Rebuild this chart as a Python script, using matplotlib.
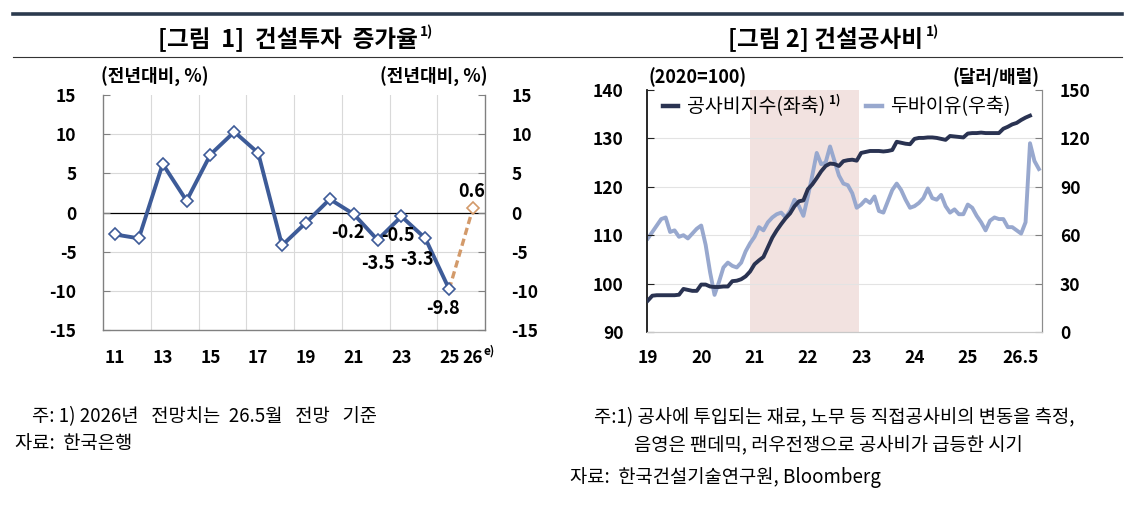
import matplotlib
matplotlib.use('Agg')
import matplotlib.pyplot as plt
from matplotlib.lines import Line2D
import numpy as np

plt.rcParams['font.family'] = ['Noto Sans CJK KR', 'DejaVu Sans']
plt.rcParams['axes.unicode_minus'] = False

# ---------------- [그림 1] 건설투자 증가율 ----------------
years = [11, 12, 13, 14, 15, 16, 17, 18, 19, 20, 21, 22, 23, 24, 25, 26]
growth = [-2.8, -3.3, 6.2, 1.5, 7.4, 10.3, 7.6, -4.2, -1.3, 1.7,
          -0.2, -3.5, -0.5, -3.3, -9.8, 0.6]
labeled_years = [21, 22, 23, 24, 25, 26]
year_ticks = [11, 13, 15, 17, 19, 21, 23, 25, 26]
year_tick_labels = ['11', '13', '15', '17', '19', '21', '23', '25', '26']

# ---------------- [그림 2] 건설공사비 (월별, 19.1월~) ----------------
cost_index = [96.5, 97.5, 97.6, 97.6, 97.6, 97.6, 97.6, 97.7, 98.9, 98.7,
              98.5, 98.5, 99.8, 99.8, 99.4, 99.3, 99.3, 99.4, 99.4, 100.5,
              100.6, 100.9, 101.5, 102.5, 104.0, 104.8, 105.5, 107.5, 109.5, 111.0,
              112.3, 113.5, 114.5, 116.0, 117.0, 117.2, 119.5, 120.5, 121.8, 123.2,
              124.3, 124.8, 124.7, 124.3, 125.3, 125.5, 125.6, 125.4, 127.0, 127.2,
              127.4, 127.4, 127.4, 127.3, 127.4, 127.6, 129.3, 129.1, 128.9, 128.8,
              129.9, 130.1, 130.1, 130.2, 130.2, 130.1, 129.9, 129.7, 130.5, 130.4,
              130.3, 130.2, 131.0, 131.1, 131.1, 131.2, 131.1, 131.1, 131.1, 131.1,
              132.0, 132.4, 132.9, 133.2, 133.8, 134.3, 134.7]
dubai = [58, 62, 66, 70, 71, 62, 63, 59, 60, 58,
         61, 64, 66, 54, 37, 23, 31, 40, 43, 41,
         40, 43, 50, 55, 59, 65, 63, 68, 71, 73,
         74, 71, 75, 82, 78, 72, 84, 97, 111, 104,
         105, 115, 106, 97, 92, 91, 86, 77, 79, 82,
         80, 84, 75, 74, 81, 88, 92, 88, 82, 77,
         78, 80, 83, 89, 83, 82, 85, 78, 74, 76,
         73, 73, 79, 77, 72, 68, 63, 69, 71, 70,
         70, 65, 65, 63, 61, 68, 117, 106, 101]
month_ticks = [0, 12, 24, 36, 48, 60, 72, 88]
month_tick_labels = ['19', '20', '21', '22', '23', '24', '25', '26.5']
shade_start, shade_end = 23, 47.5

W, H = 1130, 512
fig = plt.figure(figsize=(W / 100, H / 100), dpi=100)
fig.patch.set_facecolor('white')


def fx(px):
    return px / W


def fy(py):
    return 1 - py / H


def sup(text_artist, s, size, dy_px=0.0, dx_px=2.0):
    # small superscript right after a text artist
    fig.canvas.draw()
    bb = text_artist.get_window_extent()
    fig.text((bb.x1 + dx_px) / W, (bb.y1 - dy_px) / H, s, fontsize=size, fontweight='bold',
             ha='left', va='top')


# header rules
fig.add_artist(Line2D([fx(13), fx(1122)], [fy(13.5)] * 2, lw=2.6, color='#2B3A4E'))
fig.add_artist(Line2D([fx(13), fx(1122)], [fy(57)] * 2, lw=0.8, color='#333333'))

# titles
t1 = fig.text(fx(288), fy(39), '[그림  1]  건설투자  증가율', ha='center', va='center',
              fontsize=17, fontweight='bold')
sup(t1, '1)', 10, -2)
t2 = fig.text(fx(826), fy(39), '[그림 2] 건설공사비', ha='center', va='center',
              fontsize=17, fontweight='bold')
sup(t2, '1)', 10, -2)

# ---------------- left chart ----------------
blue = '#3D5B98'
orange = '#D39A6A'
grid_c = '#D9D9D9'

ax1 = fig.add_axes([fx(103), fy(330), fx(485) - fx(103), fy(95) - fy(330)])
ax1.set_xlim(10.5, 26.5)
ax1.set_ylim(-15, 15)
for y in [-10, -5, 5, 10]:
    ax1.axhline(y, color=grid_c, lw=0.8, zorder=0)
for x in np.arange(12.5, 25, 2):
    ax1.axvline(x, color=grid_c, lw=0.8, zorder=0)
ax1.axhline(0, color='black', lw=0.9, zorder=1)

ax1.plot(years[-2:], growth[-2:], color=orange, lw=2.4, ls=(0, (2.2, 1.2)), zorder=2)
ax1.plot(years[:-1], growth[:-1], color=blue, lw=2.8, marker='D', ms=6.5,
         mfc='white', mec=blue, mew=1.2, zorder=3)
ax1.plot(years[-1:], growth[-1:], lw=0, marker='D', ms=6, mfc='white', mec=orange,
         mew=1.2, zorder=4)

offsets = {21: (-6, -18), 22: (0, -24), 23: (-3, -19), 24: (-8, -21), 25: (-6, -19), 26: (-1, 16)}
for yr in labeled_years:
    v = growth[years.index(yr)]
    ax1.annotate(f'{v:.1f}', xy=(yr, v), xytext=offsets[yr], textcoords='offset pixels',
                 ha='center', va='center', fontsize=13, fontweight='bold', zorder=5)

ax1.set_yticks(range(-15, 16, 5))
ax1.set_xticks(year_ticks)
ax1.set_xticklabels(year_tick_labels)
ax1.annotate('e)', xy=(26, -15), xytext=(10, -21), textcoords='offset pixels',
             ha='left', va='center', fontsize=8.5, fontweight='bold', annotation_clip=False)
ax1.tick_params(axis='x', length=0, pad=14, labelsize=12.5)
ax1.tick_params(axis='y', direction='in', length=5, left=True, right=True,
                labelleft=True, labelright=True, labelsize=12.5, color='#808080', pad=19)
for lab in ax1.get_yticklabels() + ax1.get_xticklabels():
    lab.set_fontweight('bold')
ax1.spines['top'].set_visible(False)
for s in ['left', 'right', 'bottom']:
    ax1.spines[s].set_color('#808080')
    ax1.spines[s].set_linewidth(1)
for t in ax1.yaxis.get_major_ticks():
    t.label2.set_horizontalalignment('left')

fig.text(fx(101), fy(77), '(전년대비, %)', ha='left', va='center', fontsize=13, fontweight='bold')
fig.text(fx(487), fy(77), '(전년대비, %)', ha='right', va='center', fontsize=13, fontweight='bold')

# ---------------- right chart ----------------
dark = '#2A3352'
light = '#98A8CE'

ax2r = fig.add_axes([fx(647), fy(332), fx(1042) - fx(647), fy(90) - fy(332)])
ax2 = ax2r.twinx()
ax2.set_zorder(ax2r.get_zorder() + 1)
ax2.patch.set_visible(False)

xm = np.arange(len(dubai))
xc = np.arange(len(cost_index))
ax2r.set_xlim(-0.2, 88.7)
ax2r.set_ylim(0, 150)
ax2.set_ylim(90, 140)
ax2r.axvspan(shade_start, shade_end, color='#F2E2E0', lw=0, zorder=0)
for y in [30, 60, 90, 120]:
    ax2r.axhline(y, color='#E3E3E3', lw=0.8, zorder=0.5)
l_oil, = ax2r.plot(xm, dubai, color=light, lw=2.8, zorder=2)
l_cost, = ax2.plot(xc, cost_index, color=dark, lw=2.8, zorder=3)

ax2r.set_xticks(month_ticks)
ax2r.set_xticklabels(month_tick_labels)
ax2r.get_xticklabels()[-1].set_horizontalalignment('right')
ax2r.tick_params(axis='x', length=0, pad=12, labelsize=12.5)
ax2r.yaxis.tick_right()
ax2r.set_yticks(range(0, 151, 30))
ax2r.tick_params(axis='y', direction='in', length=5, pad=13, labelsize=12.5, color='#808080')
ax2.yaxis.tick_left()
ax2.set_yticks(range(90, 141, 10))
ax2.tick_params(axis='y', direction='in', length=5, pad=17, labelsize=12.5, color='#222222')
for lab in ax2r.get_xticklabels() + ax2r.get_yticklabels() + ax2.get_yticklabels():
    lab.set_fontweight('bold')
for a in (ax2, ax2r):
    a.spines['top'].set_visible(False)
    a.spines['left'].set_color('#222222')
    a.spines['left'].set_linewidth(1.1)
    a.spines['right'].set_color('#8C8C8C')
    a.spines['bottom'].set_color('#C8C8C8')

leg = ax2.legend([l_cost, l_oil], ['공사비지수(좌축)', '두바이유(우축)'], loc='center left',
                 bbox_to_anchor=(0.02, 0.93), ncol=2, frameon=False, fontsize=14,
                 handlelength=0.8, handletextpad=0.45, columnspacing=2.1, borderaxespad=0)
for ln in leg.get_lines():
    ln.set_linewidth(3.2)
sup(leg.get_texts()[0], '1)', 8.5, -3, 4)

fig.text(fx(648), fy(77), '(2020=100)', ha='left', va='center', fontsize=13, fontweight='bold')
fig.text(fx(1039), fy(77), '(달러/배럴)', ha='right', va='center', fontsize=13, fontweight='bold')

# ---------------- notes ----------------
fig.text(fx(32), fy(417), '주: 1) 2026년   전망치는  26.5월   전망   기준', ha='left', va='center', fontsize=13.5)
fig.text(fx(15), fy(444), '자료:  한국은행', ha='left', va='center', fontsize=13.5)
fig.text(fx(594), fy(418), '주:1) 공사에 투입되는 재료, 노무 등 직접공사비의 변동을 측정,',
         ha='left', va='center', fontsize=13.5)
fig.text(fx(634), fy(446), '음영은 팬데믹, 러우전쟁으로 공사비가 급등한 시기',
         ha='left', va='center', fontsize=13.5)
fig.text(fx(570), fy(477), '자료:  한국건설기술연구원, Bloomberg', ha='left', va='center', fontsize=13.5)

fig.savefig('out.png', dpi=100)
